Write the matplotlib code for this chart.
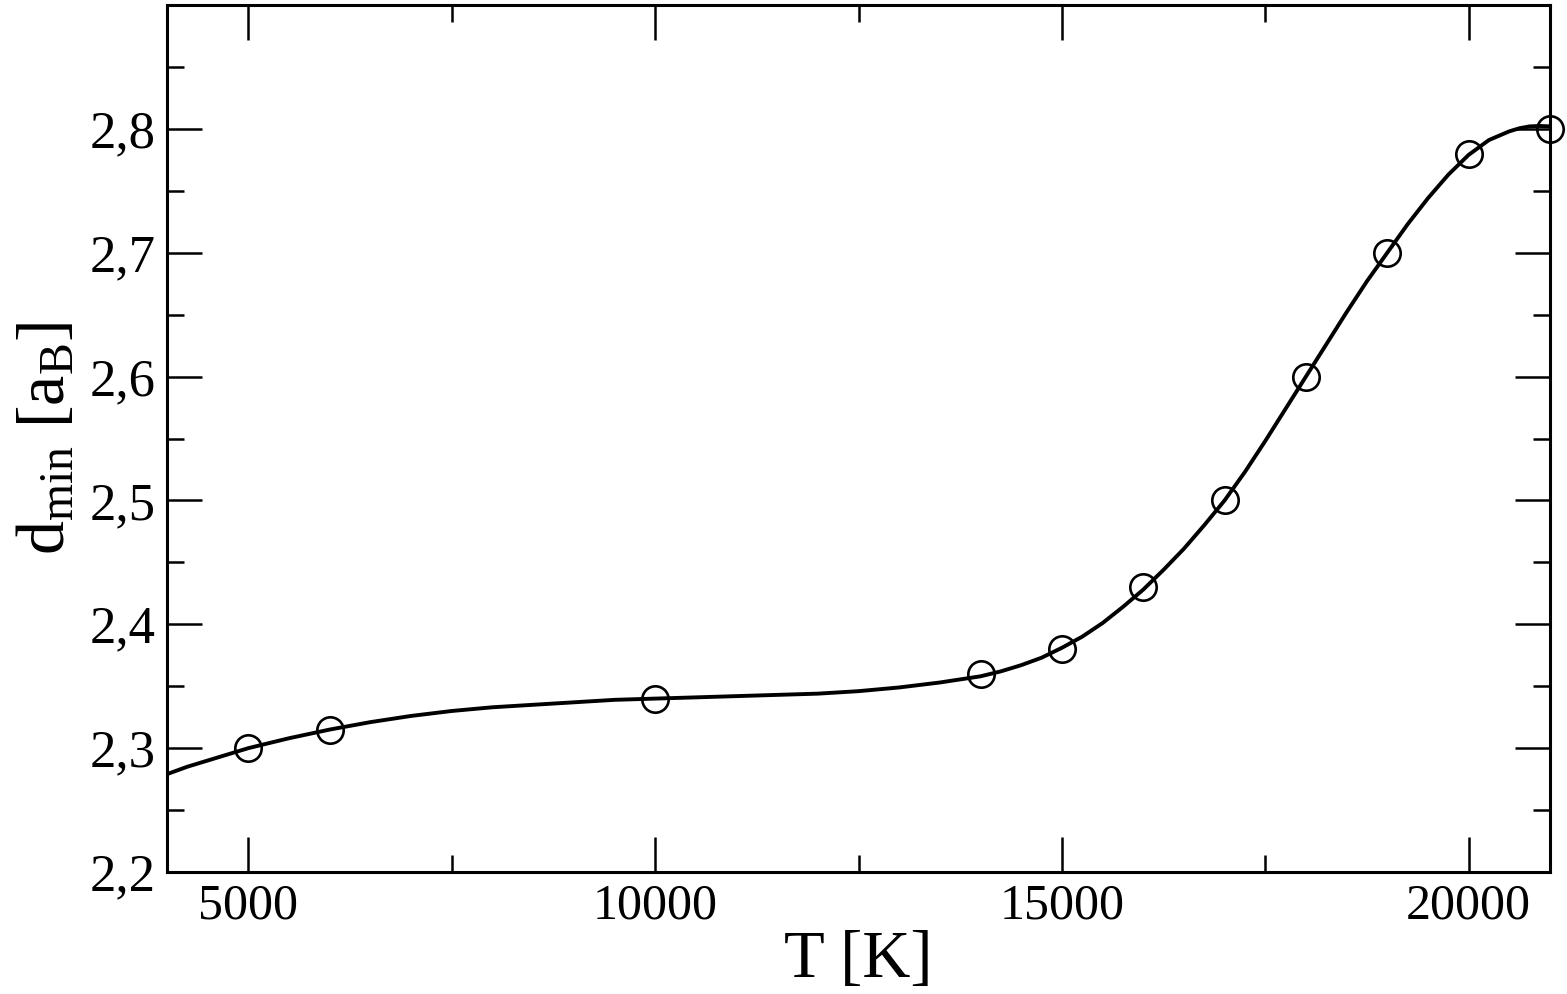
import matplotlib
matplotlib.use("Agg")
import matplotlib.pyplot as plt
from matplotlib.ticker import MultipleLocator, FuncFormatter

plt.rcParams['font.family'] = ['Liberation Serif', 'DejaVu Serif']
plt.rcParams['mathtext.fontset'] = 'custom'
plt.rcParams['mathtext.rm'] = 'Liberation Serif'
plt.rcParams['mathtext.it'] = 'Liberation Serif'

# measured points
T_points = [5000, 6000, 10000, 14000, 15000, 16000, 17000, 18000, 19000, 20000, 21000]
d_points = [2.30, 2.315, 2.34, 2.36, 2.38, 2.43, 2.50, 2.60, 2.70, 2.78, 2.80]

# fitted curve
T_fit = [4000, 4250, 4500, 4750, 5000, 5500, 6000, 6500, 7000, 7500, 8000, 8500, 9000, 9500,
         10000, 10500, 11000, 11500, 12000, 12500, 13000, 13500,
         14000, 14250, 14500, 14750, 15000, 15250, 15500, 15750, 16000, 16250,
         16500, 16750, 17000, 17250, 17500, 17750, 18000, 18250, 18500, 18750,
         19000, 19250, 19500, 19750, 20000, 20250, 20500, 20625, 20750, 20875, 21000]
d_fit = [2.279, 2.285, 2.290, 2.295, 2.300, 2.308, 2.315, 2.321, 2.326, 2.330, 2.333, 2.335, 2.337, 2.339,
         2.340, 2.341, 2.342, 2.343, 2.344, 2.346, 2.349, 2.353,
         2.358, 2.362, 2.367, 2.373, 2.381, 2.390, 2.401, 2.414, 2.428, 2.444,
         2.461, 2.480, 2.500, 2.523, 2.548, 2.574, 2.600, 2.626, 2.652, 2.677,
         2.700, 2.723, 2.744, 2.763, 2.779, 2.791, 2.798, 2.8005, 2.802, 2.8023, 2.802]

fig = plt.figure(figsize=(15.67, 9.94), dpi=100)
ax = fig.add_axes([167 / 1567, 1 - 872 / 994, (1550 - 167) / 1567, (872 - 5) / 994])

ax.plot(T_fit, d_fit, color='black', lw=2.8, zorder=2)
ax.plot(T_points, d_points, 'o', ms=19, mfc='none', mec='black', mew=1.9,
        zorder=3, clip_on=False)

ax.set_xlim(4000, 21000)
ax.set_ylim(2.2, 2.9)
ax.xaxis.set_major_locator(MultipleLocator(5000))
ax.xaxis.set_minor_locator(MultipleLocator(2500))
ax.yaxis.set_major_locator(MultipleLocator(0.1))
ax.yaxis.set_minor_locator(MultipleLocator(0.05))


def ylab(v, p):
    if v > 2.85:
        return ''
    return f"{v:.1f}".replace('.', ',')


ax.yaxis.set_major_formatter(FuncFormatter(ylab))
ax.xaxis.set_major_formatter(FuncFormatter(lambda v, p: f"{v:.0f}"))

ax.tick_params(which='both', direction='in', top=True, right=True, width=1.8)
ax.tick_params(axis='y', labelsize=38, pad=8)
ax.tick_params(axis='x', labelsize=36, pad=8)
ax.tick_params(which='major', length=25)
ax.tick_params(which='minor', length=12)
for s in ax.spines.values():
    s.set_linewidth(2.2)

ax.set_xlabel('T [K]', fontsize=48, labelpad=0)
ax.set_ylabel(r'd$_{\mathrm{min}}$ [a$_{\mathrm{B}}$]', fontsize=49, labelpad=8)

fig.savefig('out.png', dpi=100)
